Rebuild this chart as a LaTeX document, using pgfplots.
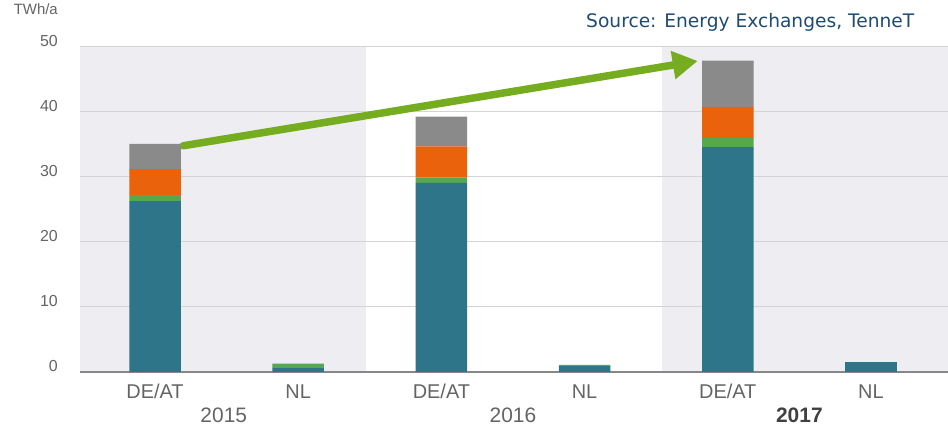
\documentclass[border=0pt]{standalone}
\usepackage{fontspec}
\setmainfont{Liberation Sans}
\newfontfamily\verdanalike{DejaVu Sans}
\usepackage{pgfplots}
\pgfplotsset{compat=1.18}
\usetikzlibrary{arrows.meta}
\definecolor{cteal}{RGB}{46,117,137}
\definecolor{cgreen}{RGB}{84,168,82}
\definecolor{corange}{RGB}{234,98,12}
\definecolor{cgray}{RGB}{138,138,138}
\definecolor{bgshade}{RGB}{238,238,242}
\definecolor{gridc}{RGB}{212,212,212}
\definecolor{axisc}{RGB}{135,135,135}
\definecolor{txt}{RGB}{100,100,100}
\definecolor{arrowg}{RGB}{118,172,32}
\definecolor{srcblue}{RGB}{30,75,115}
\pgfplotsset{base/.style={at={(80bp,54bp)}, anchor=south west,
  scale only axis, width=868bp, height=325bp,
  xmin=-0.524, xmax=5.538, ymin=0, ymax=50}}
\begin{document}
\begin{tikzpicture}
\path[use as bounding box] (0,0) rectangle (948bp,426bp);
\begin{axis}[base, hide axis]
\fill[bgshade] (axis cs:-0.524,0) rectangle (axis cs:1.47,50);
\fill[bgshade] (axis cs:3.54,0) rectangle (axis cs:5.538,50);
\end{axis}
\begin{axis}[
  base,
  ybar stacked, bar width=0.36,
  axis lines*=left,
  y axis line style={draw=none},
  x axis line style={draw=axisc, line width=1.6bp},
  major tick length=0,
  xtick={0,1,2,3,4,5},
  xticklabels={DE/AT,NL,DE/AT,NL,DE/AT,NL},
  ytick={0,10,20,30,40,50},
  ymajorgrids, grid style={draw=gridc, line width=1bp},
  /pgf/number format/assume math mode=true,
  xticklabel style={font=\fontsize{20}{22}\selectfont, text=txt, anchor=base, inner sep=0pt, yshift=-27bp},
  yticklabel style={font=\fontsize{16}{18}\selectfont, text=txt, anchor=base east, inner sep=0pt, xshift=-22bp},
  clip=false,
]
\addplot[fill=cteal, draw=none] coordinates {(0,26.3) (1,0.7) (2,29.1) (3,0.9) (4,34.6) (5,1.5)};
\addplot[fill=cgreen, draw=none] coordinates {(0,0.9) (1,0.6) (2,0.8) (3,0.2) (4,1.4) (5,0)};
\addplot[fill=corange, draw=none] coordinates {(0,4.0) (1,0) (2,4.8) (3,0) (4,4.8) (5,0)};
\addplot[fill=cgray, draw=none] coordinates {(0,3.9) (1,0) (2,4.6) (3,0) (4,7.1) (5,0)};
\node[font=\fontsize{21}{23}\selectfont, text=txt, anchor=base, inner sep=0pt] at ([yshift=-50bp]axis cs:0.48,0) {2015};
\node[font=\fontsize{21}{23}\selectfont, text=txt, anchor=base, inner sep=0pt] at ([yshift=-50bp]axis cs:2.5,0) {2016};
\node[font=\fontsize{21}{23}\selectfont\bfseries, text=black!75, anchor=base, inner sep=0pt] at ([yshift=-50bp]axis cs:4.5,0) {2017};
\draw[arrowg, line width=7.5bp, line cap=round, -{Triangle[length=25bp,width=27bp]}] (axis cs:0.196,34.8) -- (axis cs:3.79,47.85);
\end{axis}
\node[font=\fontsize{15}{17}\selectfont, text=txt, anchor=base east, inner sep=0pt] at (58bp,411bp) {TWh/a};
\node[font=\verdanalike\fontsize{18.7}{21}\selectfont, text=srcblue, anchor=base west, inner sep=0pt] at (586bp,398bp) {Source: Energy Exchanges, TenneT};
\end{tikzpicture}
\end{document}
